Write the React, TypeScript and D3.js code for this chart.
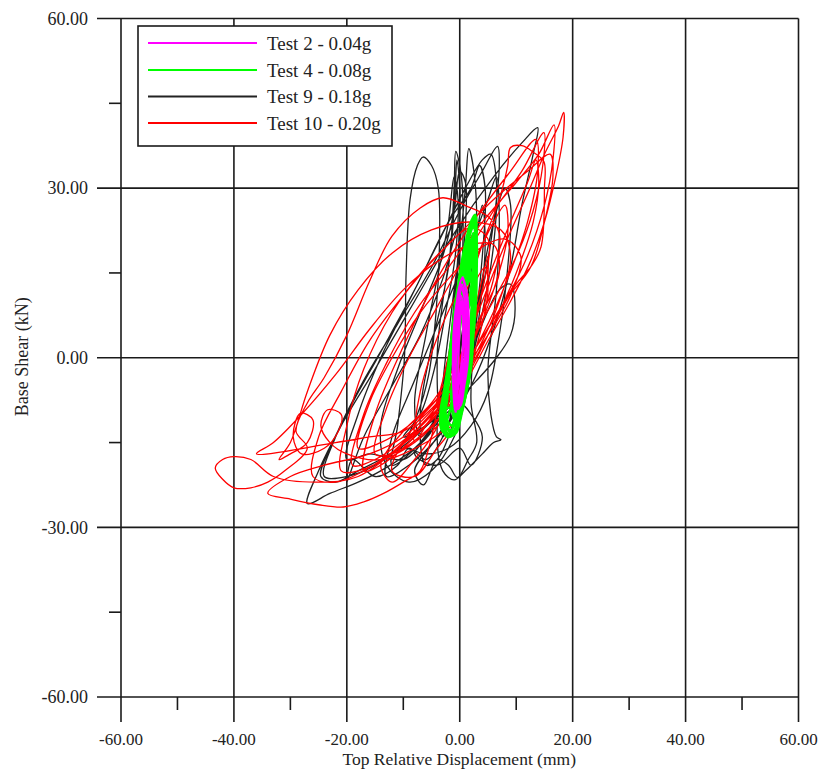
import React from "react";
import * as d3 from "d3";

type P = [number, number];

const xTicks = [-60, -40, -20, 0, 20, 40, 60];
const xMinor = [-50, -30, -10, 10, 30, 50];
const yTicks = [-60, -30, 0, 30, 60];
const yMinor = [-45, -15, 15, 45];

const seriesNames = ["Test 2 - 0.04g", "Test 4 - 0.08g", "Test 9 - 0.18g", "Test 10 - 0.20g"];
const seriesColors = ["#ff00ff", "#00ff00", "#222222", "#ff0000"];

const test2: P[] = [
  [-0.7, -9.7], [-1.2, -4.4], [-1.2, 0], [-1.1, 4.4], [-0.5, 10], [0.5, 14.2], [1.3, 11], [1.6, 7], [1.5, 2], [1.2, -2], [0.5, -6.2], [-0.2, -9],
  [-0.6, -9], [-1, -4], [-0.9, 1], [-0.7, 6], [-0.1, 11], [0.4, 13], [1, 10], [1.3, 6], [1.2, 1], [0.9, -3], [0.3, -7],
  [-0.4, -8], [-0.7, -3], [-0.6, 2], [-0.3, 7], [0.2, 11], [0.8, 8], [1, 3], [0.8, -2], [0.3, -6],
  [-0.5, -8.5], [-0.3, -4], [-0.2, 1], [0, 6], [0.3, 10], [0.6, 5], [0.5, 0], [0.2, -5],
  [-0.8, -9.4], [-1.1, -6], [-1.2, -1], [-1, 3], [-0.7, 8], [-0.2, 12], [0.4, 14], [1.1, 12], [1.5, 8], [1.6, 4], [1.4, -1], [0.8, -5], [0.1, -8.5],
  [-0.5, -8], [0.1, -3], [0.6, 2], [1, 6], [0.8, 9], [0.2, 8], [-0.4, 3], [-0.8, -2], [-0.7, -7],
  [-0.9, -5], [-0.9, 0], [-0.6, 5], [-0.2, 9], [0.3, 12.5], [0.9, 10], [1.2, 4], [1, -1], [0.4, -5], [-0.3, -8],
];

const test4: P[] = [
  [-2, -14.2], [-3.3, -12.5], [-3.4, -9.5], [-2.8, -6], [-2.1, -1.6], [-1.4, 4], [-0.7, 10.3], [0.1, 15], [0.8, 19], [1.8, 23.5], [2.7, 25.3], [3, 21], [3, 16], [2.8, 10.3], [2.4, 4], [2, -1.6], [1.2, -6], [0.2, -10.4], [-0.6, -13.2],
  [-1.8, -13.8], [-3, -11], [-2.6, -6], [-1.8, 0], [-1, 6], [-0.2, 12], [0.8, 18], [1.8, 22.5], [2.5, 23], [2.7, 18], [2.6, 12], [2.2, 5], [1.6, -1], [0.8, -6], [-0.2, -11],
  [-1.5, -13.5], [-2.5, -10], [-2.1, -5], [-1.3, 1], [-0.5, 7], [0.4, 14], [1.3, 19], [2.2, 20], [2.4, 14], [2, 7], [1.4, 1], [0.6, -5], [-0.4, -10],
  [-2.2, -14], [-3, -12], [-2.8, -8], [-2.2, -3], [-1.5, 3], [-0.8, 9], [0.2, 16], [1.2, 21], [2.4, 24.5], [2.9, 22], [3, 17], [2.9, 11], [2.5, 5], [2, 0], [1.4, -4], [0.5, -9], [-0.4, -12.5],
  [-1.8, -14], [-2.8, -12.5], [-2.5, -9], [-1.4, -9], [-0.6, -11], [-1, -13.5], [-2.4, -13.8], [-3.2, -11.5], [-2.9, -7], [-1.8, -6], [-0.8, -9], [-0.2, -11.5],
  [-0.6, -12], [-1.5, -7], [-0.9, -1], [0, 5], [0.8, 11], [1.6, 16], [2.2, 12], [2.1, 6], [1.6, 0], [0.9, -4], [0, -8], [-0.8, -12],
  [0.6, 16], [1.4, 20], [2.2, 23.5], [2.6, 24.8], [2.8, 20], [2.7, 15], [2.3, 17], [1.6, 21], [1.2, 18], [1.8, 14], [2.5, 12],
  [2.2, 6], [1.8, 1], [1.1, -4], [0.2, -9], [-1, -13], [-2.6, -12], [-2.2, -7], [-1.7, -2], [-1.1, 3], [-0.4, 9], [0.4, 14],
  [1.2, 14], [1.8, 18], [2.4, 22], [2.6, 20], [2.2, 17], [1.6, 15], [1.4, 19], [2, 22.5], [2.6, 23.5], [2.9, 19], [2.5, 15], [2.1, 11], [1.2, 8], [0.6, 12], [1.2, 16],
  [1, 19], [1.7, 21], [2.2, 19], [1.9, 16], [1.4, 13], [0.9, 15], [1.5, 18.5], [2.1, 21], [2.5, 18], [2.2, 14], [1.6, 10], [1, 9], [0.4, 11],
  [-0.2, 7], [-0.9, 3], [-1.6, -1], [-2.3, -8], [-1.8, -3], [-1.3, 2], [-1, -4], [-1.6, -9], [-2.2, -11], [-1.4, -12], [-0.6, -10], [-1, -6],
];

const test9: P[] = [
  [0, 0], [1, 8], [2, 16], [2.5, 22], [2, 15], [0.5, 5], [-1, -5], [-2, -12],
  [-3, -14], [-3, -5], [-1.5, 8], [0, 20], [1, 30], [1.6, 37], [2.5, 33], [3, 22], [2, 8], [0.5, -4], [-2, -14], [-4, -18],
  [-6, -19], [-7, -10], [-5, 2], [-2, 16], [-1, 30], [-0.7, 36.5], [0.3, 32], [0.5, 18], [-0.5, 4], [-3, -8], [-7, -15], [-12, -19],
  [-11, -12], [-9.8, 0], [-9.5, 15], [-8.8, 28], [-7.5, 34], [-6.5, 35.5], [-5, 34], [-3.8, 30], [-3.6, 20], [-4.2, 8], [-5.5, -3], [-7.5, -10],
  [-10, -15], [-15, -19], [-20, -21], [-24, -21], [-22, -14], [-17, -4], [-11, 6], [-5, 16], [0, 26], [4, 33], [6.7, 37.4], [7, 34], [6, 24], [4, 12], [1, 0], [-3, -10], [-8, -16], [-14, -20],
  [-18, -22], [-23, -24], [-27, -25.8], [-25, -20], [-21, -12], [-15, -2], [-8, 10], [-1, 22], [6, 32], [11, 38], [13.8, 40.7], [13, 36], [11, 27], [9, 16], [6, 5], [2, -5], [-3, -13], [-9, -19],
  [-13, -21], [-12, -14], [-8, -4], [-3, 8], [2, 20], [5, 28], [6.5, 32], [7, 25], [6.5, 12], [5, -2], [5.5, -10], [6.5, -14], [7.3, -14.5], [6, -15], [4, -17], [1, -20], [-1, -21.6], [-3, -20],
  [-4, -12], [-2, 0], [1, 12], [3, 22], [4, 27], [4.5, 20], [3.5, 8], [1.5, -5], [-1, -14], [-5, -20], [-9, -22], [-13, -19],
  [-14, -12], [-11, -2], [-7, 8], [-3, 18], [-1, 26], [0, 33], [1, 31], [0.8, 20], [-0.5, 6], [-2.5, -6], [-6, -14], [-10, -18], [-16, -17], [-20, -18],
  [-18, -10], [-14, 0], [-9, 10], [-4, 20], [1, 30], [4, 35], [5.5, 36], [6.5, 31], [6, 20], [4, 8], [1, -4], [-4, -14], [-8, -20], [-6.4, -22.5], [-4, -18], [-2, -19], [-0.4, -21.2], [1.5, -18], [3, -15],
  [2, -8], [2.5, 2], [4, 14], [6, 24], [8, 30], [9, 27], [8.5, 16], [7, 4], [5, -6], [2, -12], [-2, -16], [-6, -17], [-10, -16], [-14, -18], [-18, -20], [-22, -22], [-24.6, -21],
  [-23, -16], [-19, -8], [-14, 1], [-8, 12], [-2, 24], [2, 30], [3.5, 34], [4.5, 30], [4, 18], [2.5, 5], [0, -6], [-3, -14], [-6, -18], [-9, -16], [-11, -19], [-15, -21], [-19, -18], [-20, -22],
  [-17, -14], [-12, -5], [-7, 4], [-3, 14], [0, 24], [-0.3, 16], [-1.5, 4], [-3, -6], [-5, -13], [-8, -17], [-4, -19], [0, -16], [2, -19], [4, -14], [2, -10], [0, -8],
  [-3, -10], [-4, 0], [-3, 10], [-1.5, 20], [-0.8, 30], [-0.5, 35], [0, 30], [-0.2, 20], [-1, 10], [-2, 0], [-4, -10], [-7, -14],
  [-8, -8], [-6, 4], [-4, 14], [-2, 24], [-1, 32], [-0.3, 28], [-0.8, 18], [-2.5, 8], [-4.5, -2], [-7, -10], [-10, -14],
  [-6, -12], [-1, -8], [3, -4], [6.5, 0], [9, 4], [9.8, 9], [9, 13], [7, 12], [4, 6], [1, -2], [-3, -9], [-8, -14], [-12, -17],
];

const test10: P[] = [
  [0, -2], [2, 6], [4, 14], [5, 18], [4.5, 10], [2, 2], [-2, -6], [-6, -12],
  [-8, -15], [-7, -6], [-3, 6], [2, 16], [6, 24], [8, 27], [8.5, 22], [6, 12], [2, 2], [-3, -8], [-9, -15], [-14, -19],
  [-17, -20], [-15, -10], [-10, 2], [-4, 14], [3, 25], [9, 33], [13.5, 38.6], [13.8, 33], [12, 24], [8.5, 14], [4, 4], [-2, -6], [-10, -15], [-18, -21], [-25, -22],
  [-33, -21], [-37, -18], [-40, -17.5], [-42, -18], [-43.3, -19.5], [-42, -21.5], [-40, -23], [-37, -23], [-34, -22], [-31, -20], [-27, -16],
  [-29, -13], [-27, -8], [-24, -3.5], [-20, 4], [-16, 13.5], [-12, 21.5], [-7, 26.5], [-3, 28.3], [1.5, 26.7], [5, 25], [7, 22], [6, 14], [3, 5], [-1, -4], [-6, -11], [-12, -17], [-18, -20],
  [-21, -20], [-20, -12], [-17, -2], [-12, 8], [-6, 16], [0, 22], [6, 28], [12, 33], [16, 36], [16.5, 32], [15, 24], [12.6, 16.1], [8, 10], [3, 2], [-3, -7], [-10, -14], [-16, -17],
  [-24, -19], [-30, -21], [-34, -24], [-30, -25], [-25, -26], [-20.6, -26.4], [-17, -25.5], [-13.5, -24], [-10, -22], [-7, -20],
  [-5, -14], [-3, -4], [0, 8], [4, 20], [7, 28], [8.5, 34], [9, 37.2], [11, 37.5], [13.1, 36.3], [14.9, 34.7], [15, 30], [14.4, 19.6], [12.6, 16.1], [10, 13], [6, 6], [2, -2], [-3, -10], [-8, -15], [-14, -18],
  [-20, -17], [-23, -15], [-24.6, -12], [-23.4, -9.2], [-21, -10], [-21.5, -13], [-24, -16], [-28, -17], [-29.5, -14], [-28.2, -9.8], [-26, -11], [-27, -15], [-30, -17], [-32, -18],
  [-30, -15], [-27, -6], [-23, 4], [-18, 12], [-12, 18.5], [-5, 22.6], [2, 24], [7.3, 22.6], [9, 18], [7, 10], [3, 1], [-2, -7], [-8, -13], [-15, -18],
  [-19, -19], [-17, -10], [-13, -1], [-8, 8], [-2, 16], [4, 24], [10, 31], [14, 36], [16.7, 41.2], [16.5, 35], [15, 27], [12, 18], [8, 10], [3, 2], [-3, -8], [-9, -14],
  [-4, -10], [0, 0], [4, 10], [8, 20], [12, 29], [15, 36], [17.5, 41], [18.4, 43.4], [18.3, 39], [17, 32], [15, 24], [12.5, 17], [9, 10], [5, 3], [0, -6], [-6, -13], [-12, -17],
  [-15, -17], [-13, -9], [-9, 0], [-4, 9], [1, 18], [6, 26], [11, 33], [14.9, 39.8], [14.7, 34], [13, 26], [10.5, 19], [7, 12], [2, 3], [-3, -6], [-9, -12], [-14, -15],
  [-18, -16], [-16, -8], [-12, 0], [-7, 8], [-2, 14], [3, 19], [8, 21], [10.8, 18], [9, 11], [5, 4], [0, -3], [-5, -9], [-10, -13], [-16, -14], [-22, -15],
  [-36, -17], [-33, -15], [-28, -10], [-22, -3], [-16, 5], [-10, 12], [-4, 17], [2, 20], [6, 20], [7, 15], [4, 8], [0, 0], [-5, -8], [-10, -13], [-14, -19], [-12, -22], [-8, -18], [-5, -14],
  [-2, -8], [1, 3], [5, 14], [9, 24], [12, 31], [13.5, 35], [14, 31], [13, 24], [10, 15], [6, 6], [1, -3], [-5, -11], [-11, -16], [-17, -20], [-22, -22], [-26, -21],
  [-25, -14], [-21, -6], [-16, 3], [-10, 11], [-4, 18], [2, 23], [5, 21], [4, 12], [1, 2], [-3, -6], [-8, -12], [-12, -20], [-8, -21], [-4, -16], [-1, -12],
  [-3, -13], [-6, -15], [-10, -17], [-13, -18], [-9, -14], [-5, -10], [-3, -4], [-1, 4], [2, 12], [4.5, 16], [5, 12], [3.5, 4], [1, -4], [-2, -10], [-5, -13],
];

const allSeries = [test2, test4, test9, test10];
const drawOrder = [2, 3, 1, 0];

const W = 824;
const H = 778;
const left = 121;
const right = 798.5;
const top = 18.5;
const bottom = 697;
const FONT = "'Liberation Serif', 'Times New Roman', serif";

export default function App() {
  const x = d3.scaleLinear().domain([-60, 60]).range([left, right]);
  const y = d3.scaleLinear().domain([-60, 60]).range([bottom, top]);
  const line = d3
    .line<P>()
    .x((d) => x(d[0]))
    .y((d) => y(d[1]))
    .curve(d3.curveCatmullRom.alpha(0.5));

  const legendRows = [43, 70, 96.5, 123];

  return (
    <svg
      width={W}
      height={H}
      style={{ position: "absolute", left: 0, top: 0, background: "#fff" }}
      fontFamily={FONT}
    >
      <rect x={0} y={0} width={W} height={H} fill="#fff" />
      {/* grid lines */}
      {xTicks.map((t) => (
        <line key={"gx" + t} x1={x(t)} x2={x(t)} y1={top} y2={bottom + 25} stroke="#1a1a1a" strokeWidth={1.6} />
      ))}
      {yTicks.map((t) => (
        <line key={"gy" + t} x1={left - 24} x2={right} y1={y(t)} y2={y(t)} stroke="#1a1a1a" strokeWidth={1.6} />
      ))}
      {xMinor.map((t) => (
        <line key={"mx" + t} x1={x(t)} x2={x(t)} y1={bottom} y2={bottom + 13} stroke="#1a1a1a" strokeWidth={1.6} />
      ))}
      {yMinor.map((t) => (
        <line key={"my" + t} x1={left - 12} x2={left} y1={y(t)} y2={y(t)} stroke="#1a1a1a" strokeWidth={1.6} />
      ))}

      {/* data */}
      <g fill="none" strokeLinejoin="round">
        {drawOrder.map((i) => (
          <path
            key={"s" + i}
            d={line(allSeries[i]) || ""}
            stroke={seriesColors[i]}
            strokeWidth={i === 1 ? 2.6 : i === 0 ? 2.2 : 1.3}
          />
        ))}
      </g>

      {/* tick labels */}
      {yTicks.map((t) => (
        <text key={"yl" + t} x={88} y={y(t)} dy="0.35em" textAnchor="end" fontSize={18} fill="#222">
          {t.toFixed(2)}
        </text>
      ))}
      {xTicks.map((t) => (
        <text key={"xl" + t} x={x(t)} y={745} textAnchor="middle" fontSize={17} fill="#222">
          {t.toFixed(2)}
        </text>
      ))}
      <text x={(left + right) / 2 - 0.5} y={765} textAnchor="middle" fontSize={17.5} fill="#222">
        Top Relative Displacement (mm)
      </text>
      <text
        transform={`translate(28, ${(top + bottom) / 2 - 1}) rotate(-90)`}
        textAnchor="middle"
        fontSize={18}
        fill="#222"
      >
        Base Shear (kN)
      </text>

      {/* legend */}
      <rect x={138} y={26} width={254} height={120} fill="#fff" stroke="#1a1a1a" strokeWidth={1.6} />
      {seriesNames.map((n, i) => (
        <g key={"lg" + i}>
          <line x1={148} x2={257} y1={legendRows[i]} y2={legendRows[i]} stroke={seriesColors[i]} strokeWidth={2} />
          <text x={267} y={legendRows[i]} dy="0.35em" fontSize={19} fill="#222">
            {n}
          </text>
        </g>
      ))}
    </svg>
  );
}
